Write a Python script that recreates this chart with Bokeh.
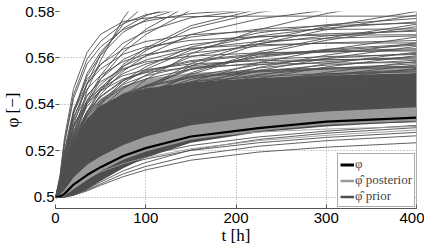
from bokeh.plotting import figure
from bokeh.models import Range1d, FixedTicker, Legend, LegendItem, Span
from bokeh.embed import file_html
from bokeh.resources import INLINE

# time grid [h]
t = [0, 5, 10, 20, 35, 50, 75, 100, 150, 225, 300, 400]

# mean posterior (black)
phi_mean = [0.5, 0.5004, 0.5015, 0.5055, 0.5096, 0.5130, 0.5178, 0.5212, 0.5262, 0.5298, 0.5326, 0.5343]

# posterior band (light gray)
post_upper = [0.5, 0.5008, 0.5028, 0.5085, 0.5140, 0.5177, 0.5225, 0.5262, 0.5310, 0.5347, 0.5370, 0.5388]
post_lower = [0.5, 0.5, 0.5006, 0.5035, 0.5075, 0.5112, 0.5162, 0.5197, 0.5248, 0.5286, 0.5312, 0.5330]

# dense core of prior samples (dark gray)
prior_core_lower = [0.5, 0.5, 0.5, 0.5008, 0.5035, 0.5070, 0.5125, 0.5170, 0.5235, 0.5280, 0.5305, 0.5326]
prior_core_upper = [0.5, 0.5045, 0.5120, 0.5240, 0.5340, 0.5395, 0.5445, 0.5470, 0.5495, 0.5515, 0.5525, 0.5535]
# streaky fringe above the dense core
prior_fringe_upper = [0.5, 0.5060, 0.5145, 0.5270, 0.5370, 0.5425, 0.5480, 0.5510, 0.5535, 0.5550, 0.5558, 0.5565]

# individual prior samples (dark gray)
prior_samples = [
    [0.5, 0.503, 0.511, 0.527, 0.546, 0.559, 0.577, 0.590, 0.605, 0.614, 0.618, 0.620],
    [0.5, 0.504, 0.514, 0.531, 0.549, 0.5615, 0.5745, 0.583, 0.595, 0.603, 0.607, 0.610],
    [0.5, 0.5085, 0.5238, 0.5442, 0.5595, 0.5672, 0.5748, 0.5786, 0.582, 0.584, 0.5847, 0.585],
    [0.5, 0.5082, 0.523, 0.5426, 0.5574, 0.5648, 0.5722, 0.5759, 0.5791, 0.581, 0.5818, 0.582],
    [0.5, 0.5055, 0.5166, 0.5368, 0.5534, 0.5626, 0.5727, 0.5782, 0.5846, 0.5888, 0.5906, 0.592],
    [0.5, 0.5054, 0.5162, 0.536, 0.5522, 0.5612, 0.5711, 0.5765, 0.5828, 0.5869, 0.5887, 0.590],
    [0.5, 0.503, 0.5099, 0.5257, 0.5416, 0.5525, 0.5644, 0.5723, 0.5832, 0.5911, 0.5955, 0.599],
    [0.5, 0.5029, 0.5096, 0.525, 0.5403, 0.5509, 0.5624, 0.5701, 0.5806, 0.5883, 0.5926, 0.596],
    [0.5, 0.5026, 0.5088, 0.5229, 0.537, 0.5466, 0.5572, 0.5642, 0.5739, 0.581, 0.5849, 0.588],
    [0.5, 0.505, 0.5151, 0.5336, 0.5487, 0.5571, 0.5664, 0.5714, 0.5773, 0.5811, 0.5827, 0.584],
    [0.5, 0.5026, 0.5087, 0.5225, 0.5363, 0.5458, 0.5562, 0.5631, 0.5727, 0.5796, 0.5835, 0.5865],
    [0.5, 0.5017, 0.5052, 0.5138, 0.5241, 0.5327, 0.543, 0.5507, 0.5619, 0.5722, 0.5791, 0.586],
    [0.5, 0.5025, 0.5084, 0.5217, 0.5351, 0.5443, 0.5543, 0.5610, 0.5701, 0.5768, 0.5806, 0.5835],
    [0.5, 0.5094, 0.5257, 0.5468, 0.5624, 0.5702, 0.5757, 0.5772, 0.5778, 0.578, 0.578, 0.578],
    [0.5, 0.5016, 0.5048, 0.5128, 0.5224, 0.5304, 0.540, 0.5472, 0.5576, 0.5672, 0.5736, 0.580],
    [0.5, 0.5016, 0.5047, 0.5126, 0.522, 0.5298, 0.5393, 0.5463, 0.5565, 0.5659, 0.5722, 0.5785],
    [0.5, 0.5023, 0.5077, 0.520, 0.5323, 0.5408, 0.5501, 0.5562, 0.5647, 0.5708, 0.5743, 0.577],
    [0.5, 0.5023, 0.5076, 0.5196, 0.5317, 0.540, 0.5491, 0.5551, 0.5634, 0.5695, 0.5729, 0.5755],
    [0.5, 0.5045, 0.5135, 0.530, 0.5435, 0.551, 0.5593, 0.5638, 0.569, 0.5724, 0.5739, 0.575],
    [0.5, 0.5015, 0.5045, 0.5119, 0.5209, 0.5283, 0.5373, 0.544, 0.5536, 0.5626, 0.5685, 0.5745],
    [0.5, 0.5015, 0.5044, 0.5118, 0.5206, 0.5279, 0.5368, 0.5434, 0.5529, 0.5617, 0.5676, 0.5735],
    [0.5, 0.5073, 0.5203, 0.5377, 0.5508, 0.5573, 0.5638, 0.5671, 0.570, 0.5716, 0.5723, 0.5725],
    [0.5, 0.5022, 0.5072, 0.5187, 0.5302, 0.5382, 0.5468, 0.5526, 0.5605, 0.5662, 0.5695, 0.572],
    [0.5, 0.5043, 0.5129, 0.5286, 0.5415, 0.5486, 0.5565, 0.5608, 0.5658, 0.569, 0.5704, 0.5715],
    [0.5, 0.507, 0.5196, 0.5364, 0.549, 0.5553, 0.5616, 0.5648, 0.5676, 0.5692, 0.5698, 0.570],
    [0.5, 0.5042, 0.5125, 0.5278, 0.5403, 0.5473, 0.5549, 0.5591, 0.5639, 0.5671, 0.5685, 0.5695],
    [0.5, 0.5014, 0.5041, 0.511, 0.5193, 0.5262, 0.5345, 0.5407, 0.5497, 0.558, 0.5635, 0.569],
    [0.5, 0.5041, 0.5122, 0.527, 0.5392, 0.5459, 0.5533, 0.5574, 0.5621, 0.5651, 0.5665, 0.5675],
    [0.5, 0.5067, 0.5186, 0.5346, 0.5466, 0.5525, 0.5585, 0.5615, 0.5642, 0.5657, 0.5663, 0.5665],
    [0.5, 0.5013, 0.504, 0.5106, 0.5186, 0.5253, 0.5333, 0.5392, 0.5479, 0.5559, 0.5612, 0.5665],
    [0.5, 0.502, 0.5066, 0.5172, 0.5277, 0.535, 0.5429, 0.5482, 0.5554, 0.5607, 0.5637, 0.566],
    [0.5, 0.502, 0.5066, 0.517, 0.5275, 0.5347, 0.5426, 0.5478, 0.555, 0.5603, 0.5632, 0.5655],
    [0.5, 0.5013, 0.5039, 0.5104, 0.5182, 0.5247, 0.5325, 0.5384, 0.5468, 0.5546, 0.5598, 0.565],
    [0.5, 0.5038, 0.5115, 0.5256, 0.5371, 0.5435, 0.5506, 0.5544, 0.5589, 0.5618, 0.563, 0.564],
    [0.5, 0.5038, 0.5114, 0.5254, 0.5368, 0.5432, 0.5502, 0.554, 0.5584, 0.5613, 0.5625, 0.5635],
    [0.5, 0.5063, 0.5176, 0.5328, 0.5441, 0.5498, 0.5554, 0.5583, 0.5608, 0.5622, 0.5628, 0.563],
    [0.5, 0.5013, 0.5038, 0.510, 0.5175, 0.5238, 0.5313, 0.5369, 0.545, 0.5525, 0.5575, 0.5625],
    [0.5, 0.5019, 0.5062, 0.5161, 0.526, 0.5329, 0.5403, 0.5453, 0.5521, 0.557, 0.5598, 0.562],
    [0.5, 0.5037, 0.5111, 0.5246, 0.5357, 0.5418, 0.5486, 0.5523, 0.5566, 0.5593, 0.5606, 0.5615],
    [0.5, 0.5012, 0.5037, 0.5098, 0.5171, 0.5232, 0.5305, 0.536, 0.5439, 0.5512, 0.5561, 0.561],
    [0.5, 0.5018, 0.5061, 0.5157, 0.5254, 0.5321, 0.5393, 0.5442, 0.5508, 0.5557, 0.5584, 0.5605],
    [0.5, 0.5036, 0.5108, 0.524, 0.5348, 0.5408, 0.5474, 0.551, 0.5552, 0.5579, 0.5591, 0.560],
    [0.5, 0.506, 0.5167, 0.5309, 0.5417, 0.547, 0.5524, 0.555, 0.5574, 0.5588, 0.5593, 0.5595],
    [0.5, 0.5018, 0.5059, 0.5153, 0.5248, 0.5313, 0.5384, 0.5431, 0.5496, 0.5543, 0.5569, 0.559],
    [0.5, 0.5012, 0.5035, 0.5094, 0.5164, 0.5222, 0.5293, 0.5345, 0.5421, 0.5491, 0.5538, 0.5585],
    [0.5, 0.5058, 0.5162, 0.5302, 0.5406, 0.5458, 0.551, 0.5537, 0.556, 0.5573, 0.5578, 0.558],
    [0.5, 0.5017, 0.5058, 0.515, 0.5242, 0.5305, 0.5374, 0.542, 0.5483, 0.5529, 0.5555, 0.5575],
    [0.5, 0.5011, 0.5034, 0.5091, 0.516, 0.5217, 0.5285, 0.5336, 0.541, 0.5479, 0.5524, 0.557],
    [0.5, 0.5034, 0.5102, 0.5226, 0.5328, 0.5384, 0.5446, 0.548, 0.552, 0.5545, 0.5557, 0.5565],
    [0.5, 0.5034, 0.5101, 0.5224, 0.5325, 0.5381, 0.5442, 0.5476, 0.5515, 0.554, 0.5552, 0.556],
    [0.5, 0.5011, 0.5033, 0.5089, 0.5155, 0.5211, 0.5278, 0.5327, 0.540, 0.5466, 0.5511, 0.5555],
    [0.5, 0.5017, 0.5055, 0.5143, 0.5231, 0.5292, 0.5358, 0.5402, 0.5462, 0.5506, 0.5531, 0.555],
    [0.5, 0.5016, 0.5055, 0.5142, 0.5229, 0.5289, 0.5354, 0.5398, 0.5458, 0.5501, 0.5526, 0.5545],
    [0.5, 0.5032, 0.5097, 0.5216, 0.5313, 0.5367, 0.5427, 0.5459, 0.5497, 0.5521, 0.5532, 0.554],
    [0.5, 0.5011, 0.5032, 0.5085, 0.5148, 0.5201, 0.5265, 0.5313, 0.5382, 0.5445, 0.5488, 0.553],
    # low prior samples
    [0.5, 0.5, 0.5001, 0.5011, 0.5032, 0.5058, 0.5101, 0.5133, 0.518, 0.522, 0.5244, 0.5265],
    [0.5, 0.5, 0.5001, 0.5009, 0.5028, 0.5052, 0.5089, 0.5118, 0.516, 0.5195, 0.5216, 0.5235],
    [0.5, 0.5006, 0.5017, 0.5045, 0.5078, 0.5106, 0.514, 0.5165, 0.5202, 0.5235, 0.5258, 0.528],
    [0.5, 0.5, 0.5002, 0.5012, 0.5036, 0.5066, 0.5114, 0.515, 0.5204, 0.5249, 0.5276, 0.530],
    [0.5, 0.5006, 0.5019, 0.505, 0.5087, 0.5118, 0.5155, 0.5183, 0.5223, 0.526, 0.5285, 0.531],
    [0.5, 0.501, 0.5033, 0.5085, 0.5137, 0.5172, 0.5211, 0.5237, 0.5273, 0.5299, 0.5314, 0.5325],
]

# individual posterior samples (light gray)
posterior_samples = [
    [0.5, 0.5009, 0.5031, 0.5079, 0.5128, 0.5162, 0.5198, 0.5223, 0.5256, 0.5281, 0.5294, 0.5305],
    [0.5, 0.5006, 0.5017, 0.5046, 0.5081, 0.511, 0.5145, 0.5171, 0.5209, 0.5244, 0.5267, 0.529],
]

x_ticks = [0, 100, 200, 300, 400]
y_ticks = [0.5, 0.52, 0.54, 0.56, 0.58]
y_tick_labels = ["0.5", "0.52", "0.54", "0.56", "0.58"]
x_min, x_max = 0, 400
y_min, y_max = 0.4952, 0.58

DARK = "#4d4d4d"
LIGHT = "#9a9a9a"

p = figure(width=424, height=248, output_backend="svg", toolbar_location=None,
           x_range=Range1d(x_min, x_max), y_range=Range1d(y_min, y_max),
           min_border_left=54, min_border_right=8, min_border_top=11, min_border_bottom=40)
p.outline_line_color = None
p.background_fill_color = "white"

p.varea(x=t, y1=prior_core_upper, y2=prior_fringe_upper, fill_color=DARK, fill_alpha=0.55)
p.varea(x=t, y1=prior_core_lower, y2=prior_core_upper, fill_color=DARK)
p.multi_line(xs=[t] * len(prior_samples), ys=prior_samples, line_color="#505050", line_width=0.9)
p.varea(x=t, y1=post_lower, y2=post_upper, fill_color=LIGHT)
p.multi_line(xs=[t] * len(posterior_samples), ys=posterior_samples, line_color=LIGHT, line_width=0.9)
p.line(t, phi_mean, line_color="black", line_width=2.2)

# legend-only (hidden) renderers
lg_mean = p.line(t, phi_mean, line_color="black", line_width=3, visible=False)
lg_post = p.line(t, post_upper, line_color=LIGHT, line_width=2.5, visible=False)
lg_prior = p.line(t, prior_core_upper, line_color=DARK, line_width=2.5, visible=False)
legend = Legend(items=[LegendItem(label="φ", renderers=[lg_mean]),
                       LegendItem(label="φ̂ posterior", renderers=[lg_post]),
                       LegendItem(label="φ̂ prior", renderers=[lg_prior])],
                location="bottom_right", margin=1, padding=2, spacing=0,
                glyph_width=14, glyph_height=15, label_standoff=1,
                label_text_font="Liberation Serif", label_text_font_size="13px",
                label_height=15, border_line_color="#555555", border_line_width=1,
                background_fill_alpha=1, inactive_fill_alpha=0, click_policy="none")
p.add_layout(legend)

# grid
for g in (p.xgrid, p.ygrid):
    g.grid_line_color = "#9a9a9a"
    g.grid_line_dash = "1 2"
    g.grid_line_width = 1
p.xgrid.ticker = FixedTicker(ticks=x_ticks)
p.ygrid.ticker = FixedTicker(ticks=y_ticks)

# axes
p.xaxis.ticker = FixedTicker(ticks=x_ticks)
p.yaxis.ticker = FixedTicker(ticks=y_ticks)
p.yaxis.major_label_overrides = dict(zip(y_ticks, y_tick_labels))
for ax in (p.xaxis[0], p.yaxis[0]):
    ax.major_label_text_font = "Liberation Sans"
    ax.major_label_text_font_size = "15px"
    ax.major_label_text_color = "black"
    ax.minor_tick_line_color = None
    ax.major_tick_out = 0
    ax.major_tick_in = 4
    ax.major_tick_line_color = "#555555"
    ax.axis_label_text_font = "Liberation Serif"
    ax.axis_label_text_font_style = "normal"
    ax.axis_label_text_font_size = "17px"
    ax.axis_label_text_color = "black"
p.xaxis.axis_label = "t [h]"
p.yaxis.axis_label = "φ [−]"
p.xaxis.axis_line_color = "#555555"
p.yaxis.axis_line_color = None
p.xaxis.major_label_standoff = 4
p.yaxis.major_label_standoff = 1
p.xaxis.axis_label_standoff = 0
p.yaxis.axis_label_standoff = 0

# right frame edge
p.add_layout(Span(location=x_max, dimension="height", line_color="#666666", line_width=1))

open("out.html", "w").write(file_html(p, INLINE))
